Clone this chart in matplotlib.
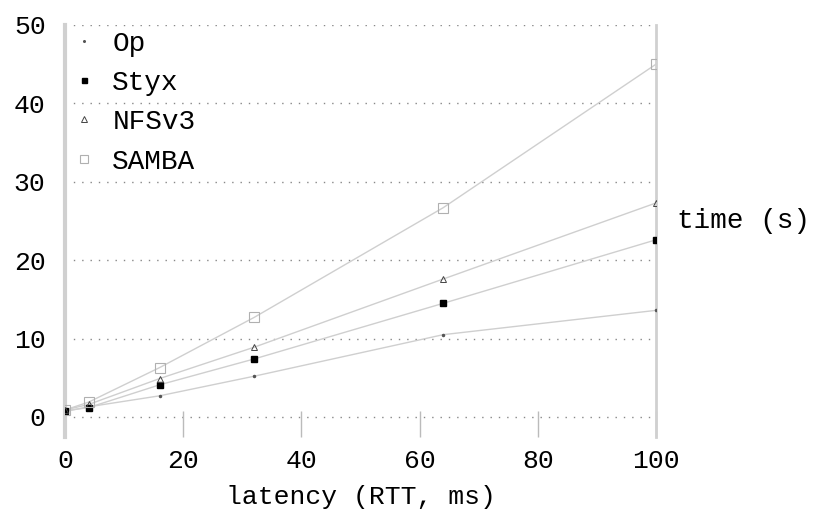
import numpy as np
import matplotlib.pyplot as plt
from matplotlib import transforms

latency = [0, 4, 16, 32, 64, 100]
op = [0.7, 1.3, 2.7, 5.2, 10.5, 13.6]
styx = [0.8, 1.2, 4.1, 7.4, 14.5, 22.6]
nfsv3 = [0.9, 1.6, 4.9, 8.9, 17.6, 27.3]
samba = [0.9, 1.9, 6.3, 12.7, 26.7, 45.0]

series = [
    ('Op', op, dict(marker='.', markersize=3, mfc='#555555', mec='#555555')),
    ('Styx', styx, dict(marker='s', markersize=4.5, mfc='black', mec='black')),
    ('NFSv3', nfsv3, dict(marker='^', markersize=5, mfc='none', mec='#444444', mew=0.7)),
    ('SAMBA', samba, dict(marker='s', markersize=6.5, mfc='none', mec='#b0b0b0', mew=0.8)),
]

plt.rcParams['font.family'] = ['Liberation Mono', 'DejaVu Sans Mono']
fig = plt.figure(figsize=(8.18, 5.15), dpi=100)
ax = fig.add_axes([0.0795, 0.1515, 0.7225, 0.80])

for name, vals, st in series:
    ax.plot(latency, vals, '-', color='#cfcfcf', lw=1.0, zorder=2)
    ax.plot(latency, vals, linestyle='none', label=name, zorder=3,
            marker=st['marker'], markersize=st['markersize'],
            markerfacecolor=st['mfc'], markeredgecolor=st['mec'],
            markeredgewidth=st.get('mew', 1.0))

ax.set_xlim(0, 100)
ax.set_ylim(-2.55, 50)
ax.set_xticks([0, 20, 40, 60, 80, 100])
ax.set_yticks([0, 10, 20, 30, 40, 50])
for y in [0, 10, 20, 30, 40, 50]:
    ax.axhline(y, color='#888888', lw=1.0, linestyle=(0, (1, 5)), zorder=1)

ax.spines['top'].set_visible(False)
ax.spines['bottom'].set_visible(False)
ax.spines['left'].set_color('#d0d0d0')
ax.spines['left'].set_linewidth(3)
ax.spines['right'].set_color('#d0d0d0')
ax.spines['right'].set_linewidth(2)
ax.tick_params(axis='x', direction='in', length=19, width=1, color='#bbbbbb', labelsize=19, pad=9)
ax.tick_params(axis='y', length=0, labelsize=19, pad=14)

ax.set_xlabel('latency (RTT, ms)', fontsize=19, labelpad=8)
trans = transforms.blended_transform_factory(ax.transAxes, ax.transData)
ax.text(1.035, 25.0, 'time (s)', transform=trans, fontsize=20, ha='left', va='center')

leg = ax.legend(loc='upper left', frameon=False, fontsize=20, handlelength=1.0,
                handletextpad=0.5, labelspacing=0.48, borderaxespad=0.1, borderpad=0.1,
                markerscale=0.8)

fig.savefig('out.png', dpi=100)
